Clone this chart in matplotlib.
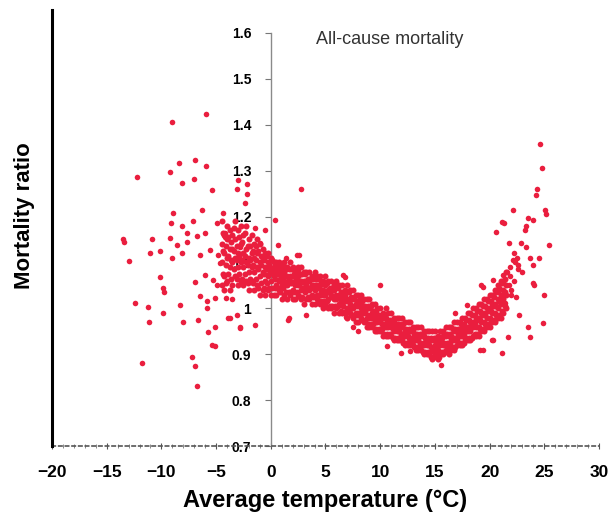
import matplotlib.pyplot as plt
from matplotlib.ticker import MultipleLocator

### Dense band of daily points: temperature columns and four ratios per column
band_temp = [-4.5, -4.25, -4.0, -3.75, -3.5, -3.25, -3.0, -2.75, -2.5, -2.25,
             -2.0, -1.75, -1.5, -1.25, -1.0, -0.75, -0.5, -0.25, 0.0, 0.25,
             0.5, 0.75, 1.0, 1.25, 1.5, 1.75, 2.0, 2.25, 2.5, 2.75,
             3.0, 3.25, 3.5, 3.75, 4.0, 4.25, 4.5, 4.75, 5.0, 5.25,
             5.5, 5.75, 6.0, 6.25, 6.5, 6.75, 7.0, 7.25, 7.5, 7.75,
             8.0, 8.25, 8.5, 8.75, 9.0, 9.25, 9.5, 9.75, 10.0, 10.25,
             10.5, 10.75, 11.0, 11.25, 11.5, 11.75, 12.0, 12.25, 12.5, 12.75,
             13.0, 13.25, 13.5, 13.75, 14.0, 14.25, 14.5, 14.75, 15.0, 15.25,
             15.5, 15.75, 16.0, 16.25, 16.5, 16.75, 17.0, 17.25, 17.5, 17.75,
             18.0, 18.25, 18.5, 18.75, 19.0, 19.25, 19.5, 19.75, 20.0, 20.25,
             20.5, 20.75, 21.0, 21.25, 21.5]
band_ratio = [
    (1.05, 1.10, 1.14, 1.19), (1.04, 1.07, 1.12, 1.16), (1.06, 1.11, 1.15, 1.18), (1.04, 1.09, 1.13, 1.17), (1.05, 1.10, 1.13, 1.16),
    (1.07, 1.11, 1.15, 1.19), (1.05, 1.09, 1.12, 1.17), (1.06, 1.10, 1.14, 1.18), (1.05, 1.09, 1.12, 1.16), (1.06, 1.10, 1.13, 1.18),
    (1.04, 1.08, 1.11, 1.15), (1.06, 1.09, 1.12, 1.16), (1.04, 1.08, 1.11, 1.14), (1.05, 1.09, 1.12, 1.15), (1.03, 1.07, 1.10, 1.14),
    (1.04, 1.08, 1.11, 1.13), (1.03, 1.06, 1.09, 1.12), (1.04, 1.07, 1.10, 1.12), (1.03, 1.06, 1.08, 1.11), (1.03, 1.07, 1.09, 1.10),
    (1.03, 1.05, 1.08, 1.10), (1.04, 1.06, 1.08, 1.10), (1.02, 1.05, 1.07, 1.09), (1.03, 1.06, 1.08, 1.10), (1.02, 1.05, 1.07, 1.09),
    (1.03, 1.06, 1.07, 1.10), (1.02, 1.04, 1.07, 1.09), (1.02, 1.05, 1.06, 1.08), (1.03, 1.05, 1.07, 1.09), (1.02, 1.04, 1.06, 1.09),
    (1.01, 1.04, 1.06, 1.08), (1.02, 1.05, 1.06, 1.08), (1.02, 1.04, 1.06, 1.08), (1.01, 1.03, 1.05, 1.07), (1.01, 1.04, 1.05, 1.08),
    (1.02, 1.03, 1.05, 1.07), (1.01, 1.03, 1.05, 1.07), (1.00, 1.03, 1.04, 1.06), (1.01, 1.03, 1.05, 1.07), (1.00, 1.02, 1.04, 1.06),
    (1.00, 1.03, 1.04, 1.06), (0.99, 1.02, 1.04, 1.05), (1.00, 1.02, 1.03, 1.06), (0.99, 1.01, 1.03, 1.05), (0.99, 1.01, 1.03, 1.05),
    (0.99, 1.02, 1.03, 1.04), (0.98, 1.00, 1.02, 1.05), (0.99, 1.01, 1.02, 1.04), (0.98, 1.00, 1.02, 1.04), (0.97, 0.99, 1.01, 1.03),
    (0.97, 0.99, 1.01, 1.03), (0.98, 1.00, 1.01, 1.03), (0.97, 0.99, 1.00, 1.02), (0.96, 0.98, 1.00, 1.02), (0.96, 0.98, 1.00, 1.02),
    (0.96, 0.98, 0.99, 1.01), (0.95, 0.97, 0.99, 1.01), (0.95, 0.97, 0.98, 1.00), (0.95, 0.97, 0.98, 1.00), (0.94, 0.96, 0.98, 0.99),
    (0.94, 0.96, 0.98, 1.00), (0.94, 0.96, 0.97, 0.99), (0.94, 0.96, 0.97, 0.99), (0.93, 0.95, 0.97, 0.98), (0.93, 0.95, 0.96, 0.98),
    (0.93, 0.95, 0.96, 0.98), (0.93, 0.94, 0.96, 0.98), (0.92, 0.94, 0.95, 0.97), (0.92, 0.94, 0.95, 0.97), (0.92, 0.93, 0.95, 0.97),
    (0.92, 0.93, 0.95, 0.96), (0.91, 0.93, 0.94, 0.96), (0.91, 0.93, 0.94, 0.96), (0.91, 0.92, 0.94, 0.96), (0.90, 0.92, 0.94, 0.95),
    (0.90, 0.92, 0.93, 0.95), (0.90, 0.92, 0.93, 0.95), (0.89, 0.91, 0.93, 0.95), (0.90, 0.92, 0.93, 0.95), (0.89, 0.91, 0.93, 0.94),
    (0.90, 0.92, 0.93, 0.95), (0.90, 0.92, 0.94, 0.95), (0.91, 0.92, 0.94, 0.96), (0.90, 0.92, 0.94, 0.96), (0.91, 0.93, 0.94, 0.96),
    (0.91, 0.93, 0.95, 0.97), (0.92, 0.93, 0.95, 0.97), (0.92, 0.94, 0.95, 0.97), (0.92, 0.94, 0.96, 0.98), (0.93, 0.95, 0.96, 0.98),
    (0.93, 0.95, 0.96, 0.99), (0.93, 0.95, 0.97, 0.99), (0.94, 0.96, 0.97, 1.00), (0.94, 0.96, 0.98, 1.00), (0.94, 0.96, 0.98, 1.01),
    (0.95, 0.97, 0.99, 1.01), (0.95, 0.97, 0.99, 1.02), (0.96, 0.98, 1.00, 1.02), (0.96, 0.98, 1.00, 1.03), (0.97, 0.99, 1.01, 1.03),
    (0.97, 0.99, 1.01, 1.04), (0.98, 1.00, 1.02, 1.05), (0.98, 1.01, 1.03, 1.06), (0.99, 1.02, 1.04, 1.06), (1.00, 1.03, 1.05, 1.08),
]

### In-between columns of the dense band, three ratios each
band2_temp = [-4.375, -4.125, -3.875, -3.625, -3.375, -3.125, -2.875, -2.625, -2.375, -2.125,
              -1.875, -1.625, -1.375, -1.125, -0.875, -0.625, -0.375, -0.125, 0.125, 0.375,
              0.625, 0.875, 1.125, 1.375, 1.625, 1.875, 2.125, 2.375, 2.625, 2.875,
              3.125, 3.375, 3.625, 3.875, 4.125, 4.375, 4.625, 4.875, 5.125, 5.375,
              5.625, 5.875, 6.125, 6.375, 6.625, 6.875, 7.125, 7.375, 7.625, 7.875,
              8.125, 8.375, 8.625, 8.875, 9.125, 9.375, 9.625, 9.875, 10.125, 10.375,
              10.625, 10.875, 11.125, 11.375, 11.625, 11.875, 12.125, 12.375, 12.625, 12.875,
              13.125, 13.375, 13.625, 13.875, 14.125, 14.375, 14.625, 14.875, 15.125, 15.375,
              15.625, 15.875, 16.125, 16.375, 16.625, 16.875, 17.125, 17.375, 17.625, 17.875,
              18.125, 18.375, 18.625, 18.875, 19.125, 19.375, 19.625, 19.875, 20.125, 20.375,
              20.625, 20.875, 21.125, 21.375]
band2_ratio = [
    (1.075, 1.125, 1.165), (1.055, 1.095, 1.135), (1.075, 1.115, 1.155), (1.065, 1.105, 1.145), (1.085, 1.125, 1.175),
    (1.065, 1.105, 1.135), (1.075, 1.115, 1.155), (1.065, 1.105, 1.145), (1.075, 1.115, 1.165), (1.055, 1.095, 1.135),
    (1.065, 1.105, 1.135), (1.055, 1.095, 1.125), (1.065, 1.105, 1.135), (1.045, 1.085, 1.125), (1.055, 1.095, 1.115),
    (1.045, 1.075, 1.105), (1.055, 1.085, 1.115), (1.045, 1.075, 1.095), (1.045, 1.085, 1.105), (1.045, 1.065, 1.085),
    (1.045, 1.075, 1.095), (1.035, 1.065, 1.085), (1.045, 1.065, 1.095), (1.035, 1.055, 1.085), (1.035, 1.065, 1.085),
    (1.035, 1.055, 1.085), (1.035, 1.055, 1.075), (1.035, 1.065, 1.085), (1.025, 1.055, 1.075), (1.025, 1.045, 1.075),
    (1.035, 1.055, 1.075), (1.025, 1.045, 1.065), (1.025, 1.045, 1.065), (1.025, 1.045, 1.065), (1.025, 1.045, 1.065),
    (1.015, 1.045, 1.065), (1.015, 1.035, 1.055), (1.015, 1.035, 1.055), (1.015, 1.035, 1.055), (1.005, 1.035, 1.045),
    (1.005, 1.025, 1.045), (1.005, 1.025, 1.045), (1.005, 1.025, 1.045), (0.995, 1.015, 1.035), (1.005, 1.025, 1.035),
    (0.995, 1.015, 1.035), (0.995, 1.015, 1.035), (0.985, 1.005, 1.025), (0.985, 1.005, 1.025), (0.985, 1.005, 1.015),
    (0.985, 1.005, 1.025), (0.975, 0.995, 1.015), (0.975, 0.995, 1.005), (0.965, 0.985, 1.005), (0.965, 0.985, 1.005),
    (0.965, 0.985, 0.995), (0.955, 0.975, 0.995), (0.955, 0.975, 0.985), (0.955, 0.965, 0.985), (0.945, 0.965, 0.985),
    (0.945, 0.965, 0.975), (0.945, 0.965, 0.975), (0.935, 0.955, 0.975), (0.935, 0.955, 0.965), (0.935, 0.955, 0.965),
    (0.935, 0.945, 0.965), (0.925, 0.945, 0.965), (0.925, 0.945, 0.955), (0.925, 0.935, 0.955), (0.925, 0.935, 0.955),
    (0.915, 0.935, 0.945), (0.915, 0.935, 0.945), (0.915, 0.925, 0.945), (0.905, 0.925, 0.945), (0.905, 0.925, 0.935),
    (0.905, 0.925, 0.935), (0.895, 0.915, 0.935), (0.905, 0.915, 0.935), (0.895, 0.915, 0.935), (0.895, 0.925, 0.935),
    (0.905, 0.925, 0.935), (0.905, 0.925, 0.945), (0.905, 0.925, 0.945), (0.915, 0.925, 0.945), (0.915, 0.935, 0.955),
    (0.915, 0.935, 0.955), (0.925, 0.945, 0.955), (0.925, 0.945, 0.965), (0.925, 0.945, 0.965), (0.935, 0.955, 0.975),
    (0.935, 0.955, 0.975), (0.935, 0.965, 0.985), (0.945, 0.965, 0.985), (0.945, 0.975, 0.995), (0.955, 0.975, 0.995),
    (0.955, 0.985, 1.005), (0.965, 0.985, 1.005), (0.965, 0.995, 1.015), (0.975, 0.995, 1.015), (0.975, 1.005, 1.025),
    (0.985, 1.005, 1.035), (0.985, 1.015, 1.045), (0.995, 1.025, 1.055), (1.005, 1.035, 1.065),
]

### Scattered cold days
cold_temp = [-9.07, -5.94, -12.2, -8.37, -6.94, -5.94, -9.25, -8.16, -7.0, -5.39,
             -3.13, -3.0, -2.37, -2.22, -2.2, -6.33, -8.98, -4.38, -9.16, -8.16,
             -7.15, -7.64, -6.79, -6.03, -4.96, -4.2, -13.5, -10.9, -13.4, -13.0,
             -11.05, -10.1, -9.2, -8.6, -9.07, -8.16, -7.64, -6.48, -5.57, -4.81,
             -4.66, -10.1, -9.83, -9.75, -6.94, -6.03, -5.27, -4.96, -6.48, -5.87,
             -5.11, -5.87, -12.4, -11.2, -9.83, -8.3, -11.1, -8.06, -6.64, -5.73,
             -5.1, -5.4, -5.1, -3.74, -3.13, -2.83, -11.8, -7.24, -6.94, -6.79,
             -4.05, -3.5, -1.46, -2.8, -3.9, -1.46, -0.55, -4.2, -2.83, -1.0]
cold_ratio = [1.407, 1.424, 1.286, 1.316, 1.323, 1.311, 1.296, 1.274, 1.281, 1.258,
              1.259, 1.28, 1.229, 1.25, 1.27, 1.214, 1.207, 1.208, 1.187, 1.18,
              1.19, 1.165, 1.158, 1.164, 1.185, 1.164, 1.15, 1.15, 1.145, 1.104,
              1.12, 1.124, 1.153, 1.138, 1.109, 1.12, 1.145, 1.116, 1.127, 1.116,
              1.098, 1.069, 1.044, 1.035, 1.058, 1.073, 1.062, 1.051, 1.026, 1.015,
              1.022, 1.0, 1.011, 1.004, 0.989, 1.007, 0.971, 0.971, 0.975, 0.949,
              0.96, 0.92, 0.917, 0.978, 0.986, 0.96, 0.88, 0.895, 0.875, 0.83,
              1.022, 1.02, 0.964, 0.957, 0.978, 1.175, 1.171, 1.156, 1.134, 1.142]

### Scattered mild and warm days
warm_temp = [24.57, 24.8, 24.26, 24.3, 25.1, 25.2, 22.1, 21.1, 21.3, 20.6,
             23.5, 23.96, 23.2, 23.3, 22.9, 23.35, 21.8, 25.4, 22.1, 22.6,
             21.9, 22.95, 21.2, 20.3, 23.96, 24.5, 23.96, 24.05, 25.0, 24.9,
             23.5, 23.65, 21.7, 21.1, 19.4, 20.3, 15.6, 11.9, 23.7, 22.0,
             20.8, 19.4, 21.4, 22.4, 22.7, 19.1, 20.2, 17.9, 19.2, 16.8,
             12.7, 10.6, 6.9, 7.5, 6.6, 9.95, 8.0, 3.26, 1.58, 1.7,
             2.8, 0.37, 2.6, 6.76, 1.43, 2.35, 2.5, 0.67, 22.3, 22.5,
             22.2, 22.6, 21.6, 21.9, 21.8, 22.2, 22.0]
warm_ratio = [1.358, 1.305, 1.247, 1.26, 1.214, 1.205, 1.214, 1.189, 1.185, 1.167,
              1.196, 1.193, 1.171, 1.18, 1.142, 1.134, 1.142, 1.138, 1.105, 1.095,
              1.09, 1.08, 1.073, 1.062, 1.095, 1.109, 1.055, 1.05, 1.029, 0.969,
              0.96, 0.938, 0.938, 0.903, 0.909, 0.931, 0.877, 0.902, 1.11, 1.04,
              1.036, 1.047, 1.011, 1.025, 0.986, 0.909, 0.931, 1.007, 1.051, 0.99,
              0.906, 0.917, 0.982, 0.96, 1.073, 1.051, 0.95, 0.986, 0.975, 0.978,
              1.259, 1.193, 1.116, 1.069, 1.109, 1.116, 1.084, 1.138, 1.10, 1.11,
              1.12, 1.085, 1.08, 1.07, 1.05, 1.06, 1.03]

x_ticks = [-20, -15, -10, -5, 0, 5, 10, 15, 20, 25, 30]
x_labels = ['\u221220', '\u221215', '\u221210', '\u22125', '0', '5', '10', '15', '20', '25', '30']
y_ticks = [0.7, 0.8, 0.9, 1.0, 1.1, 1.2, 1.3, 1.4, 1.5, 1.6]
y_labels = ['0.7', '0.8', '0.9', '1', '1.1', '1.2', '1.3', '1.4', '1.5', '1.6']

font = ['Liberation Sans', 'DejaVu Sans']
dot_color = '#ea1e3e'

fig = plt.figure(figsize=(6.08, 5.26), dpi=100)
ax = fig.add_axes([0.0855, 0.152, 0.8997, 0.829])

### flatten band columns
bx = []
by = []
for t, row in zip(band_temp, band_ratio):
    for r in row:
        bx.append(t)
        by.append(r)
for t, row in zip(band2_temp, band2_ratio):
    for r in row:
        bx.append(t)
        by.append(r)

ax.scatter(bx, by, s=19, color=dot_color, linewidths=0, zorder=3)
ax.scatter(cold_temp, cold_ratio, s=16, color=dot_color, linewidths=0, zorder=3)
ax.scatter(warm_temp, warm_ratio, s=16, color=dot_color, linewidths=0, zorder=3)

ax.set_xlim(-20, 30)
ax.set_ylim(0.7, 1.65)

ax.spines['top'].set_visible(False)
ax.spines['right'].set_visible(False)
ax.spines['left'].set_position(('data', 0))
ax.spines['left'].set_bounds(0.7, 1.6)
ax.spines['left'].set_color('#8a8a8a')
ax.spines['left'].set_linewidth(1.0)
ax.spines['bottom'].set_color('#555555')
ax.spines['bottom'].set_linestyle((0, (2, 2)))
ax.spines['bottom'].set_linewidth(1.2)
ax.axvline(-20, color='black', lw=2.2, clip_on=False, zorder=4)

ax.set_xticks(x_ticks)
ax.set_xticklabels(x_labels, family=font, fontweight='bold', fontsize=12.5)
ax.xaxis.set_minor_locator(MultipleLocator(1))
ax.tick_params(axis='x', which='major', length=4, direction='inout', color='#555555', pad=12)
ax.tick_params(axis='x', which='minor', length=3, direction='inout', color='#777777')

ax.set_yticks(y_ticks)
ax.set_yticklabels(y_labels, family=font, fontweight='bold', fontsize=10)
ax.tick_params(axis='y', length=4, color='#777777', pad=10)

ax.set_xlabel('Average temperature (\u00b0C)', family=font, fontweight='bold', fontsize=17, labelpad=6)
fig.text(0.041, 0.59, 'Mortality ratio', rotation=90, family=font, fontweight='bold',
         fontsize=16, ha='center', va='center')
ax.text(4.1, 1.585, 'All-cause mortality', family=font, fontsize=13, color='#333333',
        ha='left', va='center')

fig.savefig('out.png', dpi=100)
